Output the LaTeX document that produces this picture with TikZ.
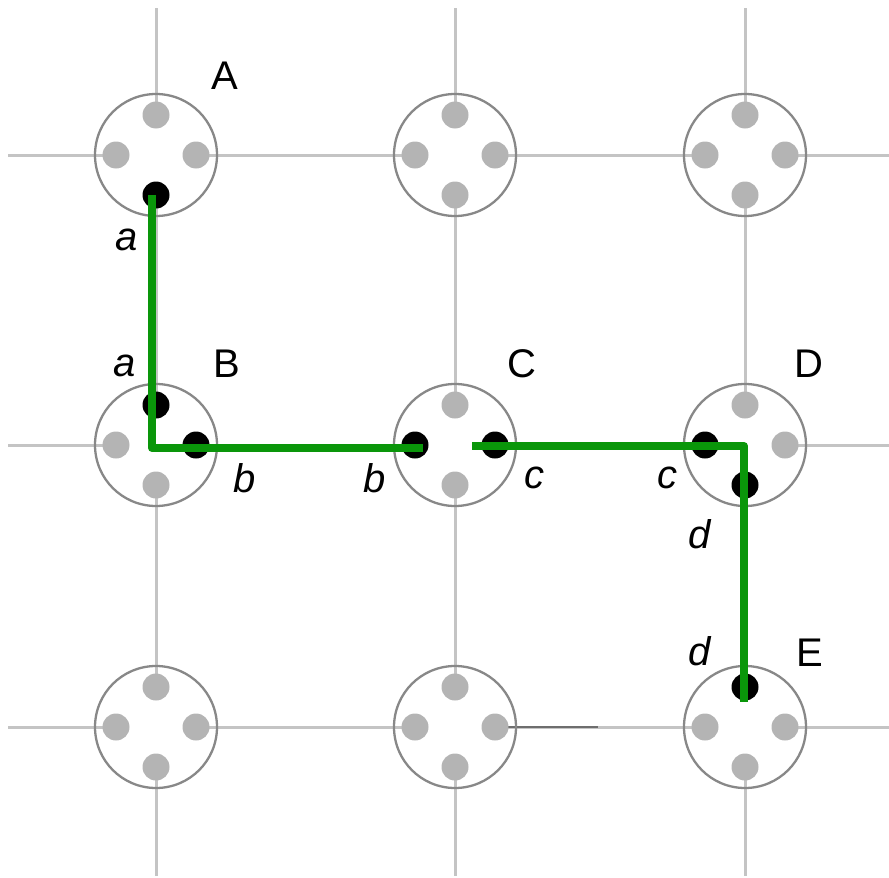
\documentclass[tikz,border=0pt]{standalone}
\usepackage{fontspec}
\setmainfont{Liberation Sans}
\pgfdeclarelayer{back}
\pgfsetlayers{back,main}
\definecolor{gridgray}{RGB}{196,196,196}
\definecolor{ringgray}{RGB}{136,136,136}
\definecolor{pingray}{RGB}{180,180,180}
\definecolor{routegreen}{RGB}{10,150,10}
\definecolor{straydark}{RGB}{110,110,110}

% \hubat{name}{x}{y}{north}{east}{south}{west}: a ring holding four pins
\newcommand\hubat[7]{%
  \node[hub] (#1) at (#2,#3) {};
  \node[#4] (#1-n) at (#2,{#3-40}) {};
  \node[#5] (#1-e) at ({#2+40},#3) {};
  \node[#6] (#1-s) at (#2,{#3+40}) {};
  \node[#7] (#1-w) at ({#2-40},#3) {};
}

\begin{document}
\begin{tikzpicture}[x=1pt,y=-1pt,
  hub/.style={circle, draw=ringgray, line width=2.3pt, minimum size=122pt, inner sep=0pt},
  pin/.style={circle, fill=pingray, minimum size=27pt, inner sep=0pt},
  used/.style={circle, fill=black, minimum size=27pt, inner sep=0pt},
  wire/.style={draw=gridgray, line width=3pt},
  route/.style={draw=routegreen, line width=8pt, line join=round},
  tag/.style={font=\fontsize{40}{48}\selectfont, anchor=base, inner sep=0pt},
  port/.style={font=\fontsize{40}{48}\selectfont\itshape, anchor=base, inner sep=0pt}]

\useasboundingbox (0,0) rectangle (889,878);

% rings and pins: columns 1..3, rows 1..3
\hubat{h11}{156}{155}{pin}{pin}{used}{pin}
\hubat{h21}{455}{155}{pin}{pin}{pin}{pin}
\hubat{h31}{745}{155}{pin}{pin}{pin}{pin}
\hubat{h12}{156}{445}{used}{used}{pin}{pin}
\hubat{h22}{455}{445}{pin}{used}{pin}{used}
\hubat{h32}{745}{445}{pin}{pin}{used}{used}
\hubat{h13}{156}{727}{pin}{pin}{pin}{pin}
\hubat{h23}{455}{727}{pin}{pin}{pin}{pin}
\hubat{h33}{745}{727}{used}{pin}{pin}{pin}

% free ends of the grid wires
\coordinate (edgeW1) at (8,155);   \coordinate (edgeE1) at (889,155);
\coordinate (edgeW2) at (8,445);   \coordinate (edgeE2) at (889,445);
\coordinate (edgeW3) at (8,727);   \coordinate (edgeE3) at (889,727);
\coordinate (edgeN1) at (156,8);   \coordinate (edgeS1) at (156,876);
\coordinate (edgeN2) at (455,8);   \coordinate (edgeS2) at (455,876);
\coordinate (edgeN3) at (745,8);   \coordinate (edgeS3) at (745,876);
\coordinate (stray) at (598,727);

\begin{pgfonlayer}{back}
  \foreach \r in {1,2,3} {
    \draw[wire] (edgeW\r) -- (h1\r-w.center);
    \draw[wire] (h1\r-e.center) -- (h2\r-w.center);
    \draw[wire] (h2\r-e.center) -- (h3\r-w.center);
    \draw[wire] (h3\r-e.center) -- (edgeE\r);
    \draw[wire] (edgeN\r) -- (h\r1-n.center);
    \draw[wire] (h\r1-s.center) -- (h\r2-n.center);
    \draw[wire] (h\r2-s.center) -- (h\r3-n.center);
    \draw[wire] (h\r3-s.center) -- (edgeS\r);
  }
  \draw[straydark, line width=1.2pt] (h23-e.center) -- (stray);
\end{pgfonlayer}

% hub names
\node[tag] (labA) at (225,89) {A};
\node[tag] (labB) at (227,377) {B};
\node[tag] (labC) at (522,377) {C};
\node[tag] (labD) at (809,377) {D};
\node[tag] (labE) at (810,666) {E};

% pin names
\node[port] (pa1) at (127,250) {a};
\node[port] (pa2) at (125,376) {a};
\node[port] (pb1) at (245,492) {b};
\node[port] (pb2) at (375,492) {b};
\node[port] (pc1) at (534,488) {c};
\node[port] (pc2) at (667,488) {c};
\node[port] (pd1) at (700,548) {d};
\node[port] (pd2) at (700,665) {d};

% the two routes
\coordinate (r1s) at ([xshift=-4pt]h11-s.center);
\coordinate (r1e) at ([xshift=8pt,yshift=-3pt]h22-w.center);
\draw[route] (r1s) |- (r1e);
\coordinate (r2s) at ([xshift=-23pt,yshift=-1pt]h22-e.center);
\coordinate (r2e) at ([xshift=-1pt,yshift=-15pt]h33-n.center);
\draw[route] (r2s) -| (r2e);
\end{tikzpicture}
\end{document}
